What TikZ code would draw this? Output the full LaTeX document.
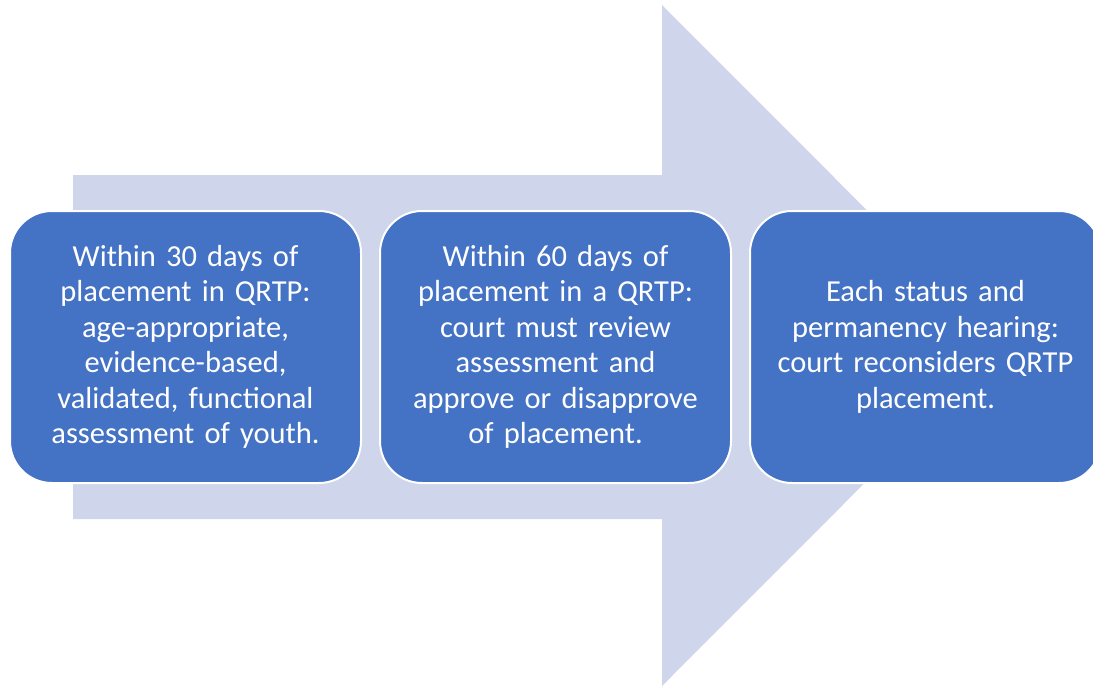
\documentclass[tikz,border=0pt]{standalone}
\usepackage{fontspec}
\setmainfont{Carlito}
\definecolor{stepblue}{HTML}{4472C4}
\definecolor{arrowtint}{HTML}{CFD5EA}
\begin{document}
\begin{tikzpicture}[x=1pt,y=-1pt,
  stepbox/.style={draw=white, line width=2pt, fill=stepblue, rounded corners=42pt,
    minimum width=351pt, minimum height=272pt, inner sep=0pt,
    text=white, align=center, text width=330pt,
    font=\fontsize{30.5}{35.5}\selectfont}]
  \useasboundingbox (0,0) rectangle (1093,686);
  \clip (0,0) rectangle (1093,686);
  % background block arrow
  \fill[arrowtint] (73,175) -- (662,175) -- (662,5) -- (1002,345.5)
    -- (662,686) -- (662,519) -- (73,519) -- cycle;
  % the three steps
  \node[stepbox] (s1) at (185.5,347) {Within 30 days of\\placement in QRTP:\\age-appropriate,\\evidence-based,\\validated, functional\\assessment of youth.};
  \node[stepbox] (s2) at (555.5,347) {Within 60 days of\\placement in a QRTP:\\court must review\\assessment and\\approve or disapprove\\of placement.};
  \node[stepbox] (s3) at (925.5,347) {Each status and\\permanency hearing:\\court reconsiders QRTP\\placement.};
\end{tikzpicture}
\end{document}
